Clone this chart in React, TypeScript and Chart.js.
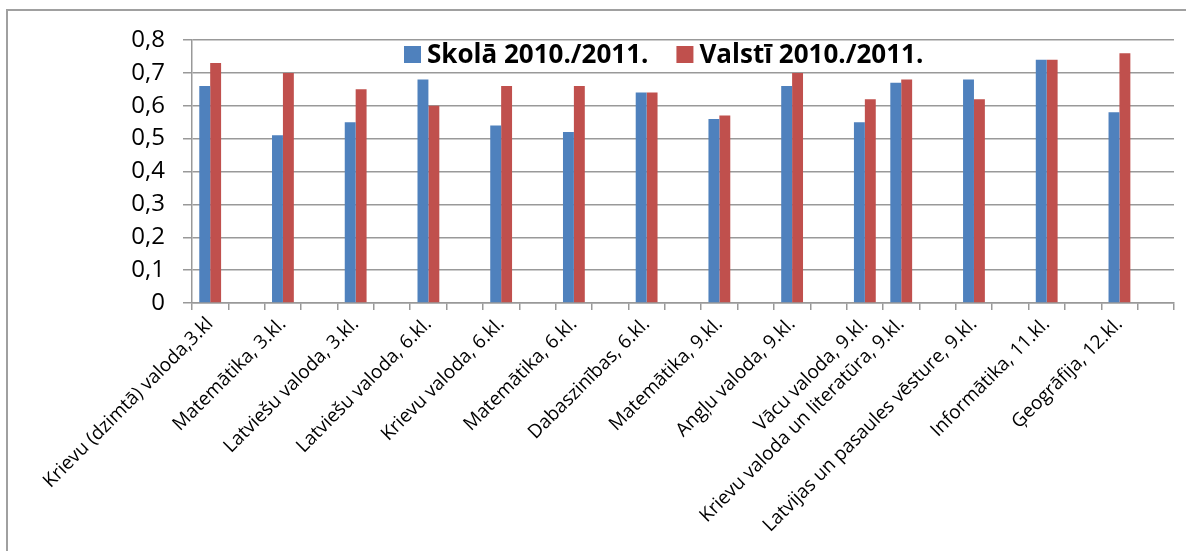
import React, { useEffect, useRef } from "react";
import { Chart, registerables } from "chart.js";

Chart.register(...registerables);

const categories = [
  "Krievu (dzimtā) valoda,3.kl", "",
  "Matemātika, 3.kl.", "",
  "Latviešu valoda, 3.kl.", "",
  "Latviešu valoda, 6.kl.", "",
  "Krievu valoda, 6.kl.", "",
  "Matemātika, 6.kl.", "",
  "Dabaszinības, 6.kl.", "",
  "Matemātika, 9.kl.", "",
  "Angļu valoda, 9.kl.", "",
  "Vācu valoda, 9.kl.",
  "Krievu valoda un literatūra, 9.kl.", "",
  "Latvijas un pasaules vēsture, 9.kl.", "",
  "Informātika, 11.kl.", "",
  "Ģeogrāfija, 12.kl.", "",
];

const skolaValues = [
  0.66, null, 0.51, null, 0.55, null, 0.68, null, 0.54, null, 0.52, null,
  0.64, null, 0.56, null, 0.66, null, 0.55, 0.67, null, 0.68, null, 0.74,
  null, 0.58, null,
];

const valstiValues = [
  0.73, null, 0.7, null, 0.65, null, 0.6, null, 0.66, null, 0.66, null,
  0.64, null, 0.57, null, 0.7, null, 0.62, 0.68, null, 0.62, null, 0.74,
  null, 0.76, null,
];

const seriesLabels = ["Skolā 2010./2011.", "Valstī 2010./2011."];
const seriesColors = ["#4F81BD", "#C0504D"];

const yMin = 0;
const yMax = 0.8;
const yStep = 0.1;

const GRID = "#999999";

const inlineLegend = {
  id: "inlineLegend",
  afterDatasetsDraw(chart: any) {
    const ctx = chart.ctx;
    ctx.save();
    ctx.font = "bold 26px 'Open Sans'";
    ctx.textBaseline = "alphabetic";
    ctx.textAlign = "left";
    let x = 404;
    const boxTop = 46;
    const box = 17;
    const baseline = 63;
    chart.data.datasets.forEach((ds: any) => {
      ctx.fillStyle = ds.backgroundColor;
      ctx.fillRect(x, boxTop, box, box);
      x += box + 6;
      ctx.fillStyle = "#000";
      ctx.fillText(ds.label, x, baseline);
      x += ctx.measureText(ds.label).width + 28;
    });
    ctx.restore();
  },
};

export default function App() {
  const canvasRef = useRef<HTMLCanvasElement | null>(null);

  useEffect(() => {
    if (!canvasRef.current) return;
    const chart = new Chart(canvasRef.current, {
      type: "bar",
      data: {
        labels: categories,
        datasets: [
          {
            label: seriesLabels[0],
            data: skolaValues,
            backgroundColor: seriesColors[0],
            categoryPercentage: 0.6,
            barPercentage: 1,
          },
          {
            label: seriesLabels[1],
            data: valstiValues,
            backgroundColor: seriesColors[1],
            categoryPercentage: 0.6,
            barPercentage: 1,
          },
        ],
      },
      options: {
        responsive: false,
        animation: false,
        events: [],
        layout: { padding: { top: 40, right: 12, bottom: 0, left: 0 } },
        plugins: {
          legend: { display: false },
          tooltip: { enabled: false },
          title: { display: false },
        },
        scales: {
          x: {
            grid: {
              drawOnChartArea: false,
              drawTicks: true,
              tickLength: 7,
              color: GRID,
              lineWidth: 1.5,
            },
            border: { display: true, color: GRID, width: 1.5 },
            ticks: {
              autoSkip: false,
              maxRotation: 45,
              minRotation: 45,
              padding: 3,
              color: "#000",
              font: { family: "'Open Sans'", size: 19 },
            },
            afterFit(scale: any) {
              scale.height = 248;
            },
          },
          y: {
            min: yMin,
            max: yMax,
            grid: {
              color: GRID,
              lineWidth: 1.5,
              tickLength: 9,
              drawTicks: true,
            },
            border: { display: true, color: GRID, width: 1.5 },
            ticks: {
              stepSize: yStep,
              padding: 18,
              color: "#000",
              font: { family: "'Open Sans'", size: 24 },
              callback: (v: any) =>
                Number(v) === 0 ? "0" : Number(v).toFixed(1).replace(".", ","),
            },
            afterFit(scale: any) {
              scale.width = 192;
            },
          },
        },
      },
      plugins: [inlineLegend],
    });
    return () => chart.destroy();
  }, []);

  return (
    <div
      style={{
        position: "absolute",
        left: 0,
        top: 0,
        width: 1186,
        height: 551,
        background: "#fff",
        overflow: "hidden",
      }}
    >
      <div
        style={{
          position: "absolute",
          left: 6,
          top: 9,
          width: 1300,
          height: 700,
          borderLeft: "2px solid #a0a0a0",
          borderTop: "2px solid #a0a0a0",
        }}
      />
      <canvas
        ref={canvasRef}
        width={1186}
        height={551}
        style={{ position: "absolute", left: 0, top: 0 }}
      />
    </div>
  );
}
